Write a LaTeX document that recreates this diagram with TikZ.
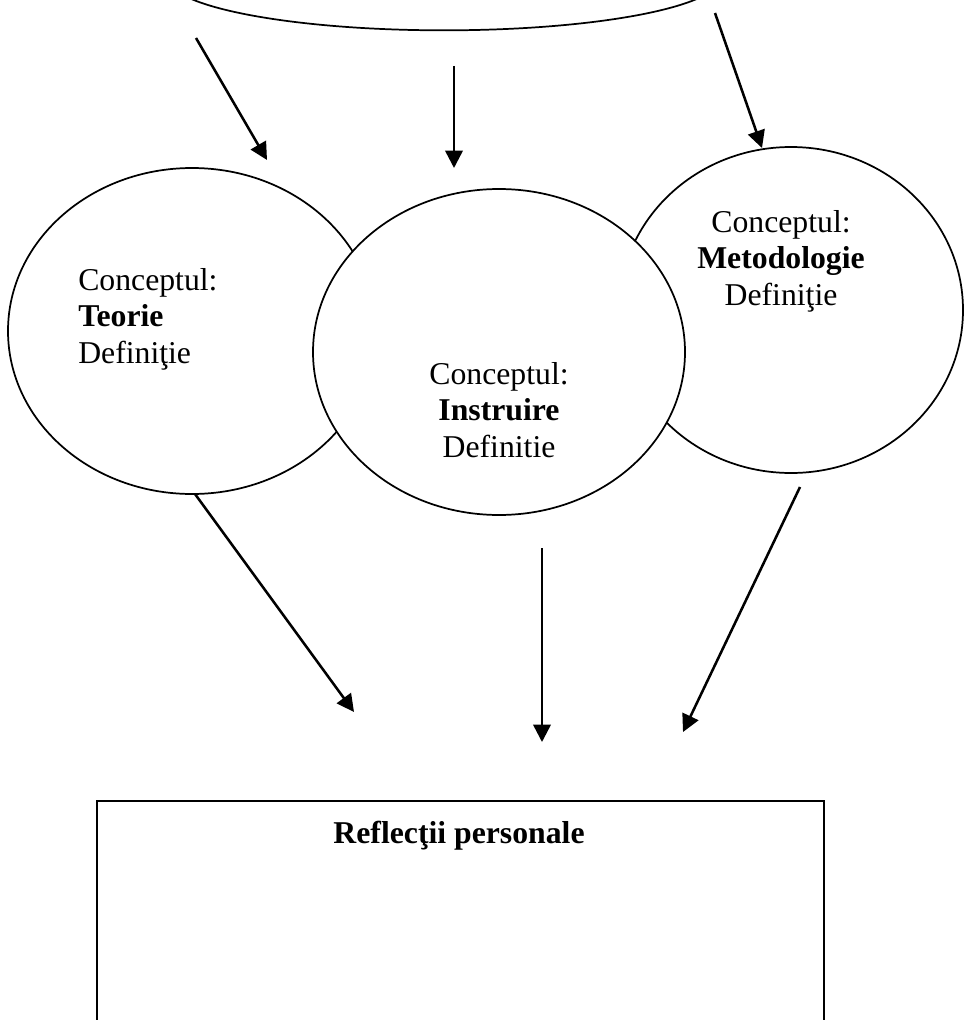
\documentclass[tikz,border=0pt]{standalone}
\usepackage{fontspec}
\setmainfont{Liberation Serif}
\usetikzlibrary{shapes.geometric,arrows.meta}

\tikzset{
  concept/.style={ellipse, draw, fill=white, line width=1.3pt, inner sep=0pt},
  label/.style={font=\fontsize{23.8pt}{27.2pt}\selectfont, inner sep=0pt},
  flow/.style={line width=1.9pt, -{Triangle[length=13pt,width=13pt]}},
  frame/.style={draw, line width=1.5pt, inner sep=0pt, anchor=north west}
}

\begin{document}
\begin{tikzpicture}[x=0.75pt,y=-0.75pt]
  \useasboundingbox (0,0) rectangle (964,1020);
  \clip (0,0) rectangle (964,1020);
  \fill[white] (0,0) rectangle (964,1020);

  % source ellipse, only its lower edge lies inside the page
  \node[concept, minimum width=416pt, minimum height=80pt] (sursa) at (444,-23) {};

  % the three concept ellipses; the middle one overlaps the others
  \node[concept, minimum width=276pt, minimum height=244.5pt] (teorie) at (192,331) {};
  \node[concept, minimum width=258pt, minimum height=244.5pt] (metodo) at (791,310) {};
  \node[concept, minimum width=279pt, minimum height=244.5pt] (instr) at (499,352) {};

  % labels are placed by the baseline of their last line
  \node[label, anchor=base west, align=left] (tTeorie) at (78,363)
    {Conceptul:\\\textbf{Teorie}\\Definiţie};
  \node[label, anchor=base, align=center] (tInstr) at (499,457)
    {Conceptul:\\\textbf{Instruire}\\Definitie};
  \node[label, anchor=base, align=center] (tMetodo) at (781,305)
    {Conceptul:\\\textbf{Metodologie}\\Definiţie};

  % reflection frame, open past the lower page edge
  \node[frame, minimum width=545.25pt, minimum height=200pt] (refl) at (96,800) {};
  \node[label, anchor=base] (tRefl) at (459,843) {\textbf{Reflecţii personale}};

  % arrow end points
  \coordinate (a1s) at (196,38);  \coordinate (a1e) at (267,160);
  \coordinate (a2s) at (454,66);  \coordinate (a2e) at (454,168);
  \coordinate (a3s) at (715,13);  \coordinate (a3e) at (762,148);
  \coordinate (b1s) at (195,494); \coordinate (b1e) at (354,712);
  \coordinate (b2s) at (542,548); \coordinate (b2e) at (542,742);
  \coordinate (b3s) at (800,487); \coordinate (b3e) at (683,732);

  \draw[flow] (a1s) -- (a1e);
  \draw[flow] (a2s) -- (a2e);
  \draw[flow] (a3s) -- (a3e);
  \draw[flow] (b1s) -- (b1e);
  \draw[flow] (b2s) -- (b2e);
  \draw[flow] (b3s) -- (b3e);
\end{tikzpicture}
\end{document}
